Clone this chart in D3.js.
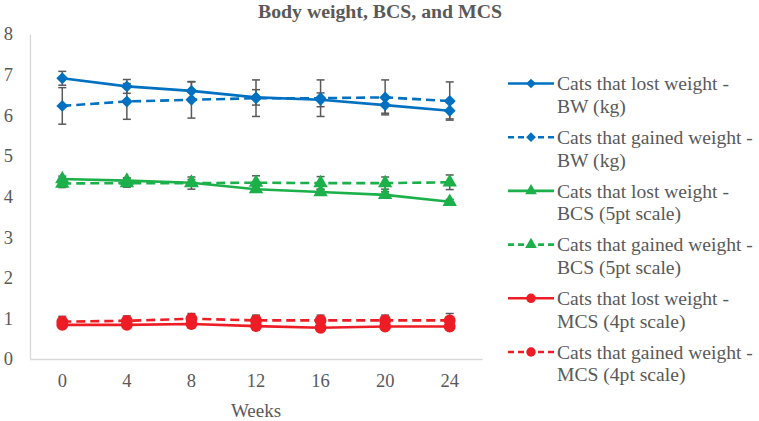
<!DOCTYPE html>
<html><head><meta charset="utf-8">
<script src="https://cdn.jsdelivr.net/npm/d3@7"></script>
<style>body{margin:0;background:#fff;}svg text{font-family:"Liberation Serif","Times New Roman",serif !important;}</style>
</head><body>
<svg id="c" width="759" height="421"></svg>
<script>
const weeks = ["0","4","8","12","16","20","24"];
const yTicks = [0,1,2,3,4,5,6,7,8];
const lostBW = [6.91,6.71,6.60,6.44,6.38,6.25,6.11];
const lostBWErr = [0.17,0.17,0.22,0.19,0.17,0.2,0.2];
const gainedBW = [6.23,6.34,6.38,6.42,6.42,6.44,6.35];
const gainedBWErr = [0.45,0.44,0.45,0.45,0.45,0.43,0.47];
const lostBCS = [4.43,4.39,4.34,4.18,4.11,4.04,3.87];
const lostBCSErr = [0.07,0.07,0.08,0.07,0.07,0.08,0.06];
const gainedBCS = [4.32,4.33,4.33,4.34,4.33,4.33,4.35];
const gainedBCSErr = [0.1,0.1,0.15,0.17,0.16,0.15,0.18];
const lostMCS = [0.84,0.84,0.86,0.81,0.77,0.80,0.80];
const lostMCSErr = [0.07,0.07,0.07,0.07,0.07,0.07,0.07];
const gainedMCS = [0.92,0.94,0.99,0.95,0.95,0.95,0.95];
const gainedMCSErr = [0.13,0.12,0.13,0.13,0.13,0.13,0.17];
const seriesNames = [
 ["Cats that lost weight -","BW (kg)"],
 ["Cats that gained weight -","BW (kg)"],
 ["Cats that lost weight -","BCS (5pt scale)"],
 ["Cats that gained weight -","BCS (5pt scale)"],
 ["Cats that lost weight -","MCS (4pt scale)"],
 ["Cats that gained weight -","MCS (4pt scale)"]
];
const title = "Body weight, BCS, and MCS";
const xTitle = "Weeks";

const BLUE="#0070C0", GREEN="#1CB04B", RED="#EE1C25", GRAY="#595959";
const series = [
 {v:lostBW,e:lostBWErr,c:BLUE,dash:null,m:"diamond"},
 {v:gainedBW,e:gainedBWErr,c:BLUE,dash:"9,5",m:"diamond"},
 {v:lostBCS,e:lostBCSErr,c:GREEN,dash:null,m:"triangle"},
 {v:gainedBCS,e:gainedBCSErr,c:GREEN,dash:"9,5",m:"triangle"},
 {v:lostMCS,e:lostMCSErr,c:RED,dash:null,m:"circle"},
 {v:gainedMCS,e:gainedMCSErr,c:RED,dash:"9,5",m:"circle"}
];

const svg = d3.select("#c");
const x = d3.scaleBand().domain(weeks).range([30,482]);
const y = d3.scaleLinear().domain([0,8]).range([359,34]);
const cx = d => x(d)+x.bandwidth()/2;

svg.append("text").attr("x",380).attr("y",17.5).attr("text-anchor","middle")
  .attr("font-weight","bold").attr("font-size",19.8).attr("fill",GRAY).text(title);

// axes
const ya = svg.append("g").attr("transform","translate(30,0)")
  .call(d3.axisLeft(y).tickValues(yTicks).tickSize(0).tickPadding(17));
ya.select(".domain").attr("stroke","#d9d9d9").attr("stroke-width",1.3);
ya.selectAll("text").attr("font-size",18.5).attr("fill",GRAY);
const xa = svg.append("g").attr("transform","translate(0,359)")
  .call(d3.axisBottom(x).tickSize(0).tickPadding(15));
xa.select(".domain").attr("stroke","#d9d9d9").attr("stroke-width",1.3);
xa.selectAll("text").attr("font-size",18.5).attr("fill",GRAY);
svg.append("text").attr("x",256).attr("y",417).attr("text-anchor","middle")
  .attr("font-size",19).attr("fill",GRAY).text(xTitle);

const sym = {
  diamond: d3.symbol().type(d3.symbolDiamond2).size(90),
  triangle: d3.symbol().type(d3.symbolTriangle).size(90),
  circle: d3.symbol().type(d3.symbolCircle).size(110)
};
const line = d3.line().x((d,i)=>cx(weeks[i])).y(d=>y(d));

series.forEach(s=>{
  svg.append("g").append("path").datum(s.v).attr("d",line).attr("fill","none")
    .attr("stroke",s.c).attr("stroke-width",2.6).attr("stroke-dasharray",s.dash);
});
series.forEach(s=>{
  const g = svg.append("g");
  s.v.forEach((v,i)=>{
    const px = cx(weeks[i]);
    g.append("line").attr("x1",px).attr("x2",px).attr("y1",y(v+s.e[i])).attr("y2",y(v-s.e[i]))
      .attr("stroke",GRAY).attr("stroke-width",1.5);
    [v+s.e[i],v-s.e[i]].forEach(t=>g.append("line").attr("x1",px-4).attr("x2",px+4)
      .attr("y1",y(t)).attr("y2",y(t)).attr("stroke",GRAY).attr("stroke-width",1.5));
  });
});
series.forEach(s=>{
  svg.append("g").selectAll("path").data(s.v).join("path")
    .attr("d",sym[s.m]).attr("fill",s.c)
    .attr("transform",(d,i)=>`translate(${cx(weeks[i])},${y(d)})`);
});

// legend
const lg = svg.append("g");
seriesNames.forEach((nm,i)=>{
  const s = series[i];
  const ly = 83.5 + i*53.7;
  lg.append("line").attr("x1",508).attr("x2",554).attr("y1",ly).attr("y2",ly)
    .attr("stroke",s.c).attr("stroke-width",2.6).attr("stroke-dasharray",s.dash?"6,4":null);
  lg.append("path").attr("d",d3.symbol().type(s.m==="diamond"?d3.symbolDiamond2:s.m==="triangle"?d3.symbolTriangle:d3.symbolCircle).size(s.m==="circle"?70:60)())
    .attr("fill",s.c).attr("transform",`translate(531,${ly})`);
  const t = lg.append("text").attr("x",557).attr("y",ly+6.8).attr("font-size",19.6).attr("fill",GRAY);
  t.append("tspan").attr("x",557).text(nm[0]);
  t.append("tspan").attr("x",557).attr("dy",22.5).text(nm[1]);
});
</script>
</body></html>
